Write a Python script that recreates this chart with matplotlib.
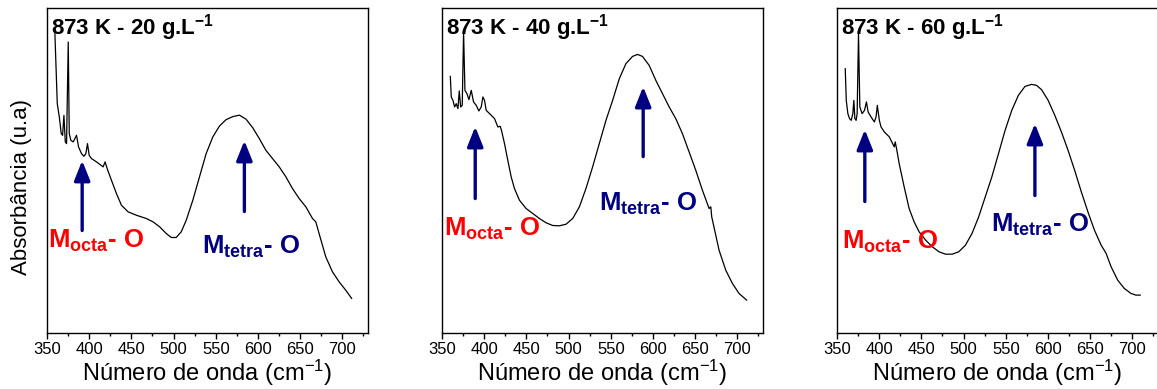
import matplotlib
matplotlib.use("Agg")
import matplotlib.pyplot as plt
from matplotlib.ticker import MultipleLocator

plt.rcParams['font.family'] = ['Liberation Sans', 'DejaVu Sans']
plt.rcParams['mathtext.default'] = 'regular'

# espectros (numero de onda em cm-1, absorbancia em u.a.)
x_20 = [359.4, 362.2, 364.6, 366.9, 368.5, 370.1, 371.7, 373.2, 375.2, 376.4, 378.3, 381.1,
        385.0, 387.4, 390.9, 393.7, 396.1, 398.0, 400.0, 402.8, 408.7, 416.5, 418.9, 421.3,
        426.4, 432.3, 438.2, 446.1, 455.9, 467.7, 475.6, 483.5, 491.3, 497.2, 503.1, 509.1,
        515.0, 522.8, 530.7, 538.6, 546.5, 554.3, 562.2, 570.1, 578.0, 585.8, 593.7, 601.6,
        609.4, 617.3, 625.2, 633.1, 640.9, 648.8, 656.7, 664.6, 668.5, 672.4, 680.3, 688.2,
        696.1, 703.9, 711.0]
y_20 = [300, 230, 216.7, 200, 198.3, 218.3, 191.7, 190, 291.7, 200, 193.3, 191.7,
        198.3, 186.7, 180, 177.3, 180, 190, 178.3, 175, 171.7, 166.7, 171.7, 165,
        153.3, 140, 128.3, 121.7, 118.3, 115, 111.7, 106.7, 100, 96, 96, 101.7,
        113.3, 133.3, 156.7, 180, 196.7, 207.5, 214, 217, 218.5, 214.5, 206, 195,
        183.3, 175, 166.7, 156.7, 145, 135, 126.7, 115, 111.7, 100, 76.7, 61.7,
        51.7, 43.3, 35]

x_40 = [359.9, 361.0, 363.0, 365.0, 366.9, 368.9, 370.5, 372.1, 374.0, 375.6, 377.2, 379.6,
        381.9, 384.7, 387.4, 390.6, 393.7, 396.5, 398.5, 400.4, 402.4, 406.4, 412.3, 416.2,
        419.0, 420.5, 424.1, 428.0, 432.0, 435.9, 441.8, 449.7, 457.6, 465.5, 473.4, 481.2,
        489.1, 497.0, 504.9, 512.8, 520.6, 528.5, 536.4, 544.3, 552.2, 560.1, 567.9, 575.8,
        581.7, 587.6, 595.5, 603.4, 611.3, 619.2, 627.0, 634.9, 642.8, 650.7, 658.6, 666.5,
        668.5, 669.6, 678.3, 686.2, 694.1, 701.9, 711.0]
y_40 = [257.3, 236.7, 233.3, 226.7, 230, 225, 242.7, 226.7, 228.3, 301.7, 243.3, 240,
        234, 243.3, 231.7, 228.3, 222.7, 226.7, 236.7, 233.3, 223.3, 220, 215, 206.7,
        207.3, 203.3, 190, 173.3, 156.7, 145, 133.3, 125, 120, 115, 110.7, 108,
        107.7, 109.3, 115, 126.7, 145, 166.7, 190, 213.3, 233.3, 255, 270, 277.3,
        279.3, 277.3, 268.3, 253.3, 240, 226.7, 215, 200, 181.7, 163.3, 143.3, 125,
        126.7, 116.7, 83.3, 63.3, 50, 40, 33.3]

x_60 = [359.8, 361.0, 362.9, 364.9, 366.9, 368.8, 370.0, 371.2, 372.7, 373.9, 375.5, 377.1,
        379.8, 382.6, 384.9, 386.9, 390.4, 394.3, 396.3, 397.8, 400.2, 402.2, 406.1, 412.0,
        415.9, 417.9, 419.0, 420.6, 423.7, 429.6, 435.5, 441.4, 447.3, 455.1, 463.0, 470.8,
        478.6, 486.5, 494.3, 502.2, 510.0, 517.9, 525.7, 533.5, 541.4, 549.2, 557.1, 564.9,
        572.8, 580.6, 586.5, 592.4, 600.2, 608.1, 615.9, 623.8, 631.6, 639.5, 647.3, 655.1,
        663.0, 666.1, 668.9, 674.8, 682.6, 690.4, 698.3, 704.2, 709.3]
y_60 = [265, 233.3, 220, 215, 213.3, 220, 233.3, 215, 213.3, 220, 300, 226.7,
        220, 223.3, 231.7, 221.7, 216.7, 211.7, 216.7, 228.3, 213.3, 206.7, 201.7, 196.7,
        190, 186.7, 191.7, 185, 170, 146.7, 125, 111.7, 101.7, 93.3, 86.7, 81.7,
        79.3, 79.3, 81.7, 88.3, 100, 116.7, 136.7, 156.7, 180, 203.3, 223.3, 238.3,
        247.3, 249.3, 248.3, 244, 233.3, 218.3, 201.7, 183.3, 163.3, 141.7, 121.7, 103.3,
        88.3, 84, 80, 66.7, 53.3, 45, 40, 38.3, 38.3]

titulos = ["873 K - 20 g.L$^{-1}$", "873 K - 40 g.L$^{-1}$", "873 K - 60 g.L$^{-1}$"]

# setas: (x, y_inicio, y_fim) octa e tetra
setas_octa = [(391.7, 103, 173), (389.4, 135, 207), (383.0, 132, 204)]
setas_tetra = [(583.9, 122, 193), (588.4, 177, 247), (584.5, 138, 210)]
# posicao dos textos (x esquerda, y centro)
txt_octa = [(351.0, 93), (352.0, 105), (355.8, 92)]
txt_tetra = [(534.0, 87), (536.0, 130), (533.0, 109)]

dados = [(x_20, y_20), (x_40, y_40), (x_60, y_60)]
lefts = [0.0406, 0.382, 0.7234]

fig = plt.figure(figsize=(11.57, 3.89), dpi=100)

for i in range(3):
    ax = fig.add_axes([lefts[i], 0.143, 0.2772, 0.837])
    x, y = dados[i]
    ax.plot(x, y, color="black", lw=0.9)

    ax.set_xlim(350, 730)
    ax.set_ylim(0, 326)
    ax.xaxis.set_major_locator(MultipleLocator(50))
    ax.xaxis.set_minor_locator(MultipleLocator(25))
    ax.set_yticks([])
    ax.tick_params(axis="x", which="major", direction="out", length=4, width=1,
                   labelsize=12, colors="black", pad=2)
    ax.tick_params(axis="x", which="minor", direction="out", length=2.5, width=1)
    for s in ax.spines.values():
        s.set_linewidth(1)

    ax.set_xlabel("Número de onda (cm$^{-1}$)", fontsize=17, labelpad=1)
    if i == 0:
        ax.set_ylabel("Absorbância (u.a)", fontsize=16)
        ax.yaxis.set_label_coords(-0.047, 0.45)

    ax.text(0.013, 0.988, titulos[i], transform=ax.transAxes, ha="left", va="top",
            fontsize=16, fontweight="bold", color="black")

    for (xa, y0, y1) in [setas_octa[i], setas_tetra[i]]:
        ax.annotate("", xy=(xa, y1), xytext=(xa, y0),
                    arrowprops=dict(arrowstyle="-|>,head_length=0.6,head_width=0.24",
                                    color="#000080", lw=2.4, mutation_scale=20,
                                    shrinkA=0, shrinkB=0))

    ax.text(txt_octa[i][0], txt_octa[i][1], "M$_{octa}$- O", ha="left", va="center",
            fontsize=18.5, fontweight="bold", color="#ff0000")
    ax.text(txt_tetra[i][0], txt_tetra[i][1], "M$_{tetra}$- O", ha="left", va="center",
            fontsize=18.5, fontweight="bold", color="#000080")

fig.savefig("out.png", dpi=100)
